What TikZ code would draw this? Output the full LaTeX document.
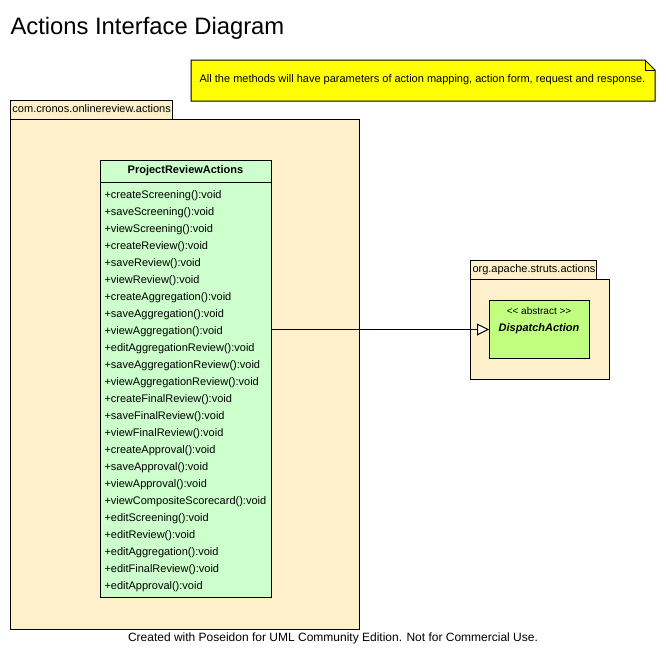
\documentclass[tikz,border=0pt]{standalone}
\usepackage{fontspec}
\setmainfont{Liberation Sans}
\usetikzlibrary{arrows.meta, positioning}

\definecolor{pkgcream}{RGB}{255,240,204}
\definecolor{classgreen}{RGB}{204,255,204}
\definecolor{abstractgreen}{RGB}{192,255,128}
\definecolor{noteyellow}{RGB}{255,255,0}

\begin{document}
\begin{tikzpicture}[x=1pt, y=-1pt, line width=1pt]
    % Setup the styles
    \tikzset{pkg tab/.style={draw, fill=pkgcream, anchor=north west,
                             inner sep=2pt, text height=7.5pt, text depth=2pt,
                             font=\fontsize{11}{13}\selectfont},
             pkg body/.style={draw, fill=pkgcream, anchor=north west},
             class box/.style={draw, fill=classgreen, anchor=north west},
             method/.style={anchor=base west, inner sep=0pt,
                            font=\fontsize{11}{13}\selectfont},
             generalization/.style={-{Triangle[open, fill=white, length=12pt, width=12pt]}}}
    \useasboundingbox (0,0) rectangle (666,664);
    % Title
    \node[anchor=base west, inner sep=0pt, font=\fontsize{23.8}{28}\selectfont]
        (title) at (10,34.5) {Actions Interface Diagram};
    % Note
    \draw[fill=noteyellow] (191,60) -- (645,60) -- (655,70) -- (655,101)
        -- (191,101) -- cycle;
    \draw (645,60) -- (645,70) -- (655,70);
    \node[font=\fontsize{11}{13}\selectfont] (note) at (422.5,80)
        {All the methods will have parameters of action mapping, action form, request and response.};
    % Package com.cronos.onlinereview.actions
    \node[pkg body, minimum width=349pt, minimum height=510pt] (pkgA) at (10,119) {};
    \node[pkg tab, minimum width=162pt, minimum height=19pt, align=left,
          text width=158pt] (pkgAtab) at (10,100) {com.cronos.onlinereview.actions};
    % Class ProjectReviewActions
    \node[class box, minimum width=171pt, minimum height=437pt] (pra) at (100,160) {};
    \draw (100,182) -- (271,182);
    \node[font=\bfseries\fontsize{11}{13}\selectfont] (praname) at (185.5,171) {ProjectReviewActions};
    \foreach \m [count=\i from 0] in {createScreening, saveScreening, viewScreening,
        createReview, saveReview, viewReview, createAggregation, saveAggregation,
        viewAggregation, editAggregationReview, saveAggregationReview,
        viewAggregationReview, createFinalReview, saveFinalReview, viewFinalReview,
        createApproval, saveApproval, viewApproval, viewCompositeScorecard,
        editScreening, editReview, editAggregation, editFinalReview, editApproval}
        \node[method] (m\i) at (104,{198+17*\i}) {+\m():void};
    % Package org.apache.struts.actions
    \node[pkg body, minimum width=139pt, minimum height=100pt] (pkgB) at (470,279) {};
    \node[pkg tab, minimum width=126pt, minimum height=19pt, align=left,
          text width=122pt] (pkgBtab) at (470,260) {org.apache.struts.actions};
    % Abstract class DispatchAction
    \node[draw, fill=abstractgreen, anchor=north west, minimum width=100pt,
          minimum height=58pt] (da) at (489,300) {};
    \node[font=\fontsize{10}{12}\selectfont] (dastereo) at (539,310.5) {{<}{<} abstract {>}{>}};
    \node[font=\bfseries\itshape\fontsize{11}{13}\selectfont] (daname) at (539,329) {DispatchAction};
    % Generalization
    \draw[generalization] (da.west -| pra.east) -- (da.west);
    % Footer
    \node[font=\fontsize{12}{14}\selectfont] (footer) at (333,638.5)
        {Created with Poseidon for UML Community Edition. Not for Commercial Use.};
\end{tikzpicture}
\end{document}
